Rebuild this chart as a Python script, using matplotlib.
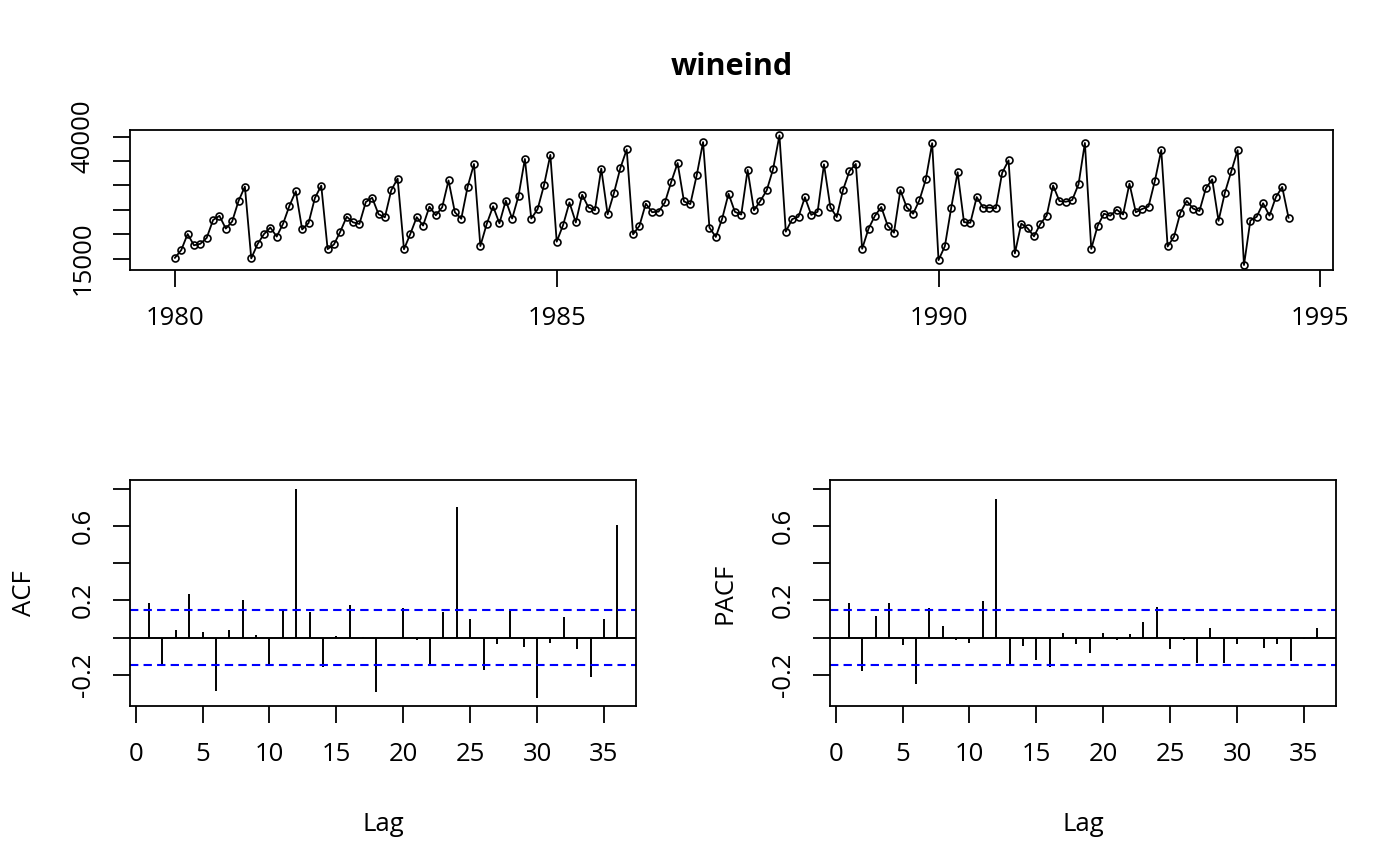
import numpy as np
import matplotlib
matplotlib.use("Agg")
import matplotlib.pyplot as plt

plt.rcParams['font.family'] = ['Open Sans', 'DejaVu Sans']

# monthly wine sales, Jan 1980 - Aug 1994
wine_1980 = [15136, 16733, 20016, 17708, 18019, 19227, 22893, 23739, 21133, 22591, 26786, 29740]
wine_1981 = [15028, 17977, 20008, 21354, 19498, 22125, 25817, 28779, 20960, 22254, 27392, 29945]
wine_1982 = [16933, 17892, 20533, 23569, 22417, 22084, 26580, 27454, 24081, 23451, 28991, 31386]
wine_1983 = [16896, 20045, 23471, 21747, 25621, 23859, 25500, 30998, 24475, 23145, 29701, 34365]
wine_1984 = [17556, 22077, 25702, 22214, 26886, 23191, 27831, 35406, 23195, 25110, 30009, 36242]
wine_1985 = [18450, 21845, 26488, 22394, 28057, 25451, 24872, 33424, 24052, 28449, 33533, 37351]
wine_1986 = [19969, 21701, 26249, 24493, 24603, 26485, 30723, 34569, 26689, 26157, 32064, 38870]
wine_1987 = [21337, 19419, 23166, 28286, 24570, 24001, 33151, 24878, 26804, 28967, 33311, 40226]
wine_1988 = [20504, 23060, 23562, 27562, 23940, 24584, 34303, 25517, 23494, 29095, 32903, 34379]
wine_1989 = [16991, 21109, 23740, 25552, 21752, 20294, 29009, 25500, 24166, 26960, 31222, 38641]
wine_1990 = [14672, 17543, 25453, 32683, 22449, 22316, 27595, 25451, 25421, 25288, 32568, 35110]
wine_1991 = [16052, 22146, 21198, 19543, 22084, 23816, 29961, 26773, 26635, 26972, 30207, 38687]
wine_1992 = [16974, 21697, 24179, 23757, 25013, 24019, 30345, 24488, 25156, 25650, 30923, 37240]
wine_1993 = [17466, 19463, 24352, 26805, 25236, 24735, 29356, 31234, 22724, 28496, 32857, 37198]
wine_1994 = [13652, 22784, 23565, 26323, 23779, 27549, 29660, 23356]

# autocorrelations, lags 1..36
acf_vals = [0.185, -0.141, 0.041, 0.234, 0.032, -0.286, 0.043, 0.203, 0.013, -0.147, 0.151, 0.800,
            0.137, -0.159, 0.010, 0.173, 0.004, -0.295, -0.001, 0.158, -0.015, -0.150, 0.136, 0.703,
            0.101, -0.172, -0.036, 0.155, -0.051, -0.323, -0.028, 0.111, -0.064, -0.213, 0.101, 0.603]
pacf_vals = [0.185, -0.182, 0.113, 0.188, -0.042, -0.250, 0.159, 0.064, -0.013, -0.029, 0.198, 0.747,
             -0.151, -0.044, -0.119, -0.159, 0.026, -0.033, -0.085, 0.022, -0.013, 0.021, 0.084, 0.164,
             -0.060, -0.015, -0.139, 0.050, -0.138, -0.036, -0.001, -0.057, -0.037, -0.128, -0.009, 0.049]
lags = list(range(1, 37))

wineind = np.array(wine_1980 + wine_1981 + wine_1982 + wine_1983 + wine_1984 + wine_1985 +
                   wine_1986 + wine_1987 + wine_1988 + wine_1989 + wine_1990 + wine_1991 +
                   wine_1992 + wine_1993 + wine_1994, dtype=float)
n = len(wineind)
t = 1980 + np.arange(n) / 12.0
ci = 1.96 / np.sqrt(n)

FS = 18.5
fig = plt.figure(figsize=(14, 8.66), dpi=100)
ax_top = fig.add_axes([0.0931, 0.6879, 0.8591, 0.1617])
ax_acf = fig.add_axes([0.0931, 0.1848, 0.3612, 0.2606])
ax_pacf = fig.add_axes([0.5931, 0.1848, 0.3612, 0.2606])

def r_style(ax):
    for s in ax.spines.values():
        s.set_linewidth(1.3)
    ax.tick_params(axis='both', direction='out', length=12, width=1.3, labelsize=FS)
    ax.tick_params(axis='x', pad=14)
    ax.tick_params(axis='y', pad=13)
    for lab in ax.get_yticklabels():
        lab.set_rotation(90)
        lab.set_va('center')

# series plot
ax_top.plot(t, wineind, color='black', lw=1.3, marker='o', ms=5, mfc='none', mew=1.2)
x_lo, x_hi = t[0], t[-1]
ax_top.set_xlim(x_lo - 0.04 * (x_hi - x_lo), x_hi + 0.04 * (x_hi - x_lo))
y_lo, y_hi = wineind.min(), wineind.max()
ax_top.set_ylim(y_lo - 0.04 * (y_hi - y_lo), y_hi + 0.04 * (y_hi - y_lo))
ax_top.set_xticks([1980, 1985, 1990, 1995])
ax_top.set_yticks([15000, 20000, 25000, 30000, 35000, 40000])
ax_top.set_yticklabels(['15000', '', '', '', '', '40000'])
r_style(ax_top)
ax_top.set_title('wineind', fontsize=22, fontweight='bold', pad=40)

# acf / pacf
all_vals = acf_vals + pacf_vals + [ci, -ci]
lo, hi = min(all_vals), max(all_vals)
ylim = (lo - 0.04 * (hi - lo), hi + 0.04 * (hi - lo))
for ax, vals, name in [(ax_acf, acf_vals, 'ACF'), (ax_pacf, pacf_vals, 'PACF')]:
    ax.vlines(lags, 0, vals, color='black', lw=1.4)
    ax.axhline(0, color='black', lw=1.4)
    ax.axhline(ci, color='#0000FF', lw=1.5, dashes=(4, 2.5))
    ax.axhline(-ci, color='#0000FF', lw=1.5, dashes=(4, 2.5))
    ax.set_xlim(1 - 0.04 * 35, 36 + 0.04 * 35)
    ax.set_ylim(*ylim)
    ax.set_xticks([0, 5, 10, 15, 20, 25, 30, 35])
    ax.set_yticks([-0.2, 0.0, 0.2, 0.4, 0.6, 0.8])
    ax.set_yticklabels(['-0.2', '', '0.2', '', '0.6', ''])
    r_style(ax)
    ax.set_xlabel('Lag', fontsize=FS, labelpad=32)
    ax.set_ylabel(name, fontsize=FS, labelpad=24)

fig.savefig('out.png', dpi=100)
